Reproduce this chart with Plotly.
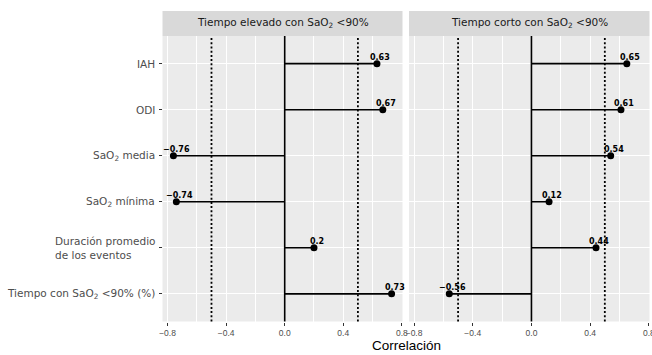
import plotly.graph_objects as go

# Correlation of each sleep variable with the outcome, by SaO2 < 90% group
variables = ["IAH", "ODI", "SaO<sub>2</sub> media", "SaO<sub>2</sub> mínima",
             "Duración promedio<br>de los eventos", "Tiempo con SaO<sub>2</sub> &lt;90% (%)"]
panels = ["Tiempo elevado con SaO<sub>2</sub> &lt;90%", "Tiempo corto con SaO<sub>2</sub> &lt;90%"]
corr_elevado = [0.63, 0.67, -0.76, -0.74, 0.2, 0.73]
corr_corto = [0.65, 0.61, 0.54, 0.12, 0.44, -0.56]
threshold = 0.5
x_ticks = [-0.8, -0.4, 0.0, 0.4, 0.8]

W, H = 652, 355
PANEL_BG = "#EBEBEB"
STRIP_BG = "#D9D9D9"
TXT_GREY = "#4D4D4D"
FONT = "DejaVu Sans"
TICK_FONT = "Liberation Sans"

x_domains = [[162.5 / W, 402.5 / W], [409 / W, 649.5 / W]]
y_domain = [1 - 321.5 / H, 1 - 36 / H]
strip_top = 1 - 11 / H
x_range = [-0.8345, 0.8045]
y_range = [len(variables) - 0.4, -0.6]


def fmt(v):
    return f"{v:g}".replace("-", "\u2212")


fig = go.Figure()
annotations = []
shapes = []

for p, (title, vals) in enumerate(zip(panels, [corr_elevado, corr_corto])):
    xa = "x" if p == 0 else "x2"
    ya = "y" if p == 0 else "y2"
    idx = list(range(len(variables)))

    # stems from zero to each correlation
    sx, sy = [], []
    for i, v in zip(idx, vals):
        sx += [0, v, None]
        sy += [i, i, None]
    fig.add_trace(go.Scatter(x=sx, y=sy, mode="lines", xaxis=xa, yaxis=ya,
                             line=dict(color="black", width=1.6),
                             hoverinfo="skip", showlegend=False))
    # points
    fig.add_trace(go.Scatter(x=vals, y=idx, mode="markers", xaxis=xa, yaxis=ya,
                             marker=dict(color="black", size=7),
                             showlegend=False))
    # value labels
    for i, v in zip(idx, vals):
        annotations.append(dict(x=v, y=i, xref=xa, yref=ya, text=f"<b>{fmt(v)}</b>",
                                showarrow=False, xanchor="center", yanchor="bottom",
                                xshift=3, yshift=0,
                                font=dict(family=FONT, size=8, color="black")))

    # reference lines: zero and +/- threshold
    shapes.append(dict(type="line", xref=xa, yref=f"{ya} domain", x0=0, x1=0, y0=0, y1=1,
                       line=dict(color="black", width=1.6)))
    for t in (-threshold, threshold):
        shapes.append(dict(type="line", xref=xa, yref=f"{ya} domain", x0=t, x1=t, y0=0, y1=1,
                           line=dict(color="black", width=1.8, dash="2px,2.2px")))

    # facet strip
    shapes.append(dict(type="rect", xref="paper", yref="paper",
                       x0=x_domains[p][0], x1=x_domains[p][1],
                       y0=y_domain[1], y1=strip_top,
                       fillcolor=STRIP_BG, line=dict(width=0), layer="below"))
    annotations.append(dict(x=sum(x_domains[p]) / 2, y=(y_domain[1] + strip_top) / 2,
                            xref="paper", yref="paper", text=title, showarrow=False,
                            xanchor="center", yanchor="middle",
                            font=dict(family=FONT, size=10.5, color="#1A1A1A")))

# y-axis category labels (left-aligned multi-line block, right edge at the ticks)
for i, lab in enumerate(variables):
    annotations.append(dict(x=157 / W, y=i, xref="paper", yref="y", text=lab,
                            showarrow=False, xanchor="right", yanchor="middle",
                            align="left",
                            font=dict(family=FONT, size=10.5, color=TXT_GREY)))

# x-axis title
annotations.append(dict(x=(x_domains[0][0] + x_domains[1][1]) / 2, y=1 - 345.5 / H,
                        xref="paper", yref="paper", text="Correlación", showarrow=False,
                        xanchor="center", yanchor="middle",
                        font=dict(family=TICK_FONT, size=13.5, color="black")))

xaxis_common = dict(range=x_range, tickvals=x_ticks,
                    ticktext=[f"{t:.1f}".replace("-", "\u2212") for t in x_ticks],
                    showgrid=True, gridcolor="white", gridwidth=1.4,
                    zeroline=False, showline=False, automargin=False,
                    ticks="outside", ticklen=3, tickwidth=1, tickcolor="#333333",
                    tickfont=dict(family=TICK_FONT, size=8.5, color=TXT_GREY),
                    ticklabeloverflow="allow",
                    minor=dict(tickvals=[-0.6, -0.2, 0.2, 0.6], showgrid=True,
                               gridcolor="white", gridwidth=0.6, ticks=""),
                    fixedrange=True)
yaxis_common = dict(range=y_range, tickvals=list(range(len(variables))),
                    showticklabels=False, showgrid=True, gridcolor="white", gridwidth=1.4,
                    zeroline=False, showline=False, automargin=False,
                    domain=y_domain, fixedrange=True)

fig.update_layout(
    width=W, height=H, autosize=False,
    margin=dict(l=0, r=0, t=0, b=0, pad=0),
    paper_bgcolor="white", plot_bgcolor=PANEL_BG,
    xaxis=dict(domain=x_domains[0], anchor="y", **xaxis_common),
    xaxis2=dict(domain=x_domains[1], anchor="y2", **xaxis_common),
    yaxis=dict(anchor="x", ticks="outside", ticklen=3, tickwidth=1, tickcolor="#333333",
               **yaxis_common),
    yaxis2=dict(anchor="x2", ticks="", **yaxis_common),
    shapes=shapes,
    annotations=annotations,
    showlegend=False,
)

fig.write_html("out.html", config={"responsive": False, "displayModeBar": False})
